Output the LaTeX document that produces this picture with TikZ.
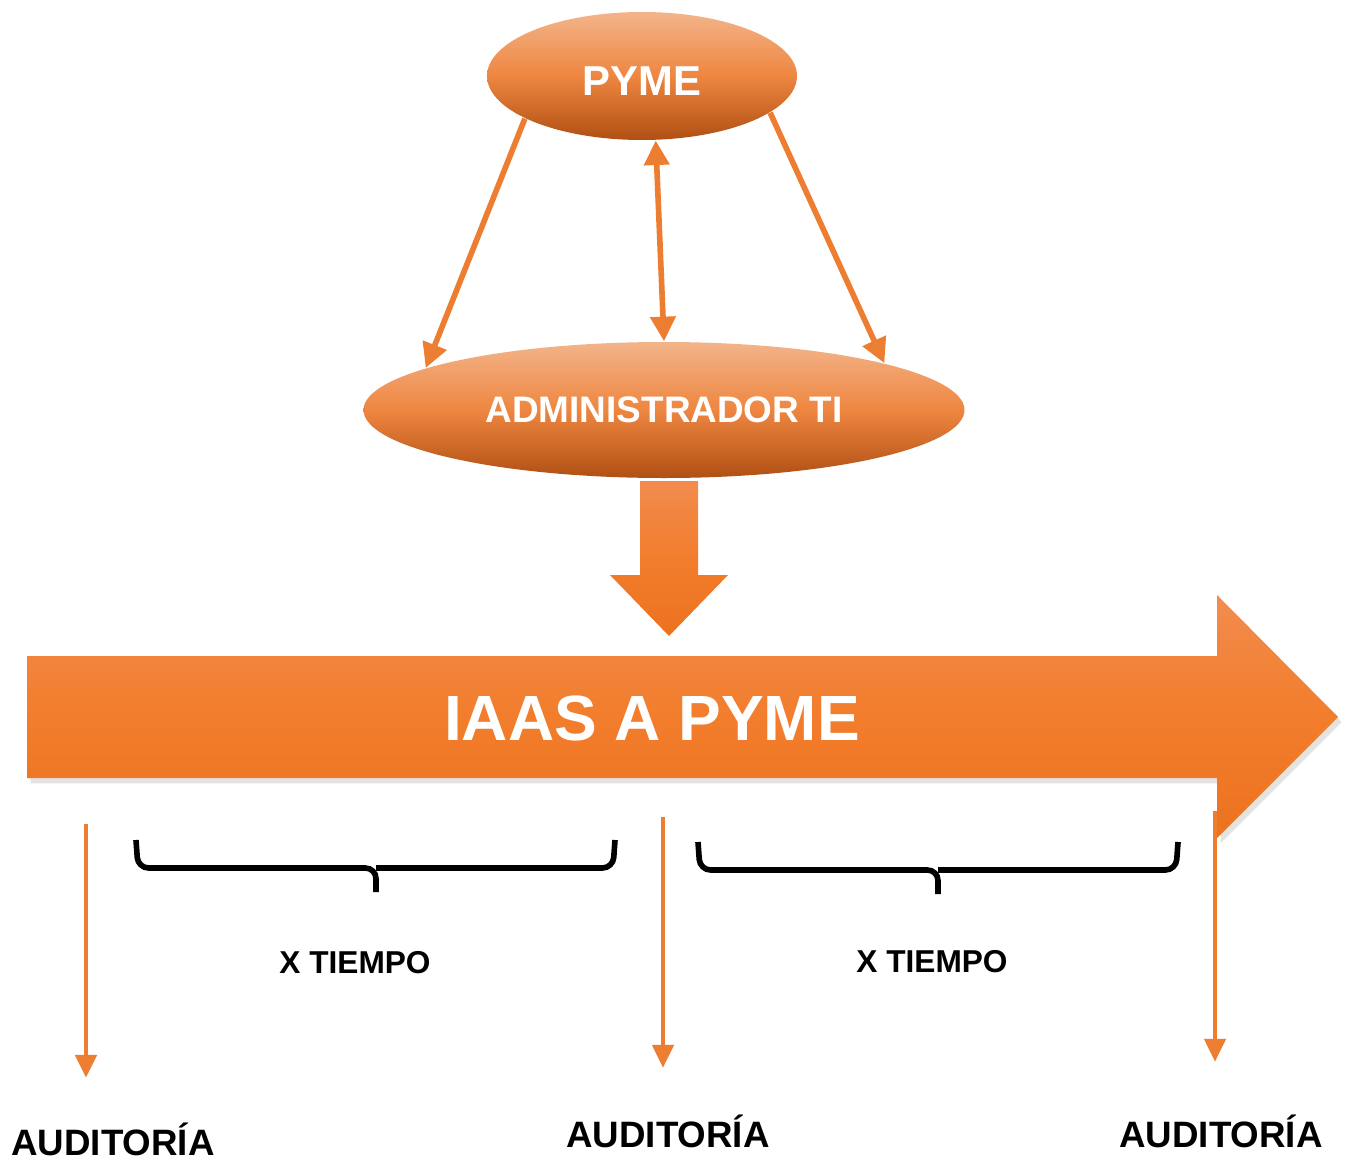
\documentclass[tikz,border=0pt]{standalone}
\usepackage{fontspec}
\setmainfont{Liberation Sans}
\usetikzlibrary{shapes.geometric,arrows.meta,calc,shadows}
\definecolor{naranja}{HTML}{ED7D31}
\definecolor{naranjaclaro}{HTML}{F3B48A}
\definecolor{naranjamedio}{HTML}{EE8640}
\definecolor{naranjaoscuro}{HTML}{B04F14}
\definecolor{flechaarriba}{HTML}{F28C4E}
\definecolor{flechamedio}{HTML}{F27D2C}
\definecolor{flechaabajo}{HTML}{EC721F}
\begin{document}
\begin{tikzpicture}
                [elipse/.style={ellipse, inner sep=0pt, top color=naranjaclaro, bottom color=naranjaoscuro, middle color=naranjamedio, text=white, font=\bfseries},
                 conector/.style={draw=naranja, line width=1.6pt, -{Triangle[length=7pt,width=7pt]}},
                 linea/.style={draw=naranja, line width=1.2pt, -{Triangle[length=6.5pt,width=6pt]}},
                 bloque/.style={top color=flechaarriba, bottom color=flechaabajo, middle color=flechamedio, draw=none},
                 llave/.style={draw=black, line width=1.6pt, rounded corners=3pt},
                 etiqueta/.style={draw=none, fill=none, inner sep=0pt, font=\bfseries}]
                \useasboundingbox (0,0) rectangle (13.46,-11.58);
                % Define nodes
                \node[elipse, minimum width=3.10cm, minimum height=1.28cm, text height=0.40cm, font=\fontsize{11.9}{14}\bfseries] (pyme) at (6.42,-0.76) {PYME};
                \node[elipse, minimum width=6.01cm, minimum height=1.36cm, font=\fontsize{10.5}{12}\bfseries] (admin) at (6.64,-4.10) {ADMINISTRADOR TI};
                % Define arrows
                \shade[bloque] (6.40,-4.81) -- (6.98,-4.81) -- (6.98,-5.75) -- (7.28,-5.75) -- (6.69,-6.36) -- (6.10,-5.75) -- (6.40,-5.75) -- cycle;
                \path[bloque, drop shadow={shadow xshift=1pt, shadow yshift=-1.5pt, opacity=0.22}] (0.27,-6.56) -- (12.17,-6.56) -- (12.17,-5.95) -- (13.38,-7.17) -- (12.17,-8.38) -- (12.17,-7.78) -- (0.27,-7.78) -- cycle;
                \node[etiqueta, text=white, font=\fontsize{18.2}{20}\bfseries] (iaas) at (6.52,-7.18) {IAAS A PYME};
                % Define edges
                \draw[conector] (pyme.200) -- (admin.170);
                \draw[conector, {Triangle[length=7pt,width=7pt]}-{Triangle[length=7pt,width=7pt]}] (pyme.-78) -- (admin.north);
                \draw[conector] (pyme.-16) -- (admin.12);
                % Braces
                \draw[llave] (1.36,-8.40) -- (1.38,-8.68) -- (3.76,-8.68) -- (3.76,-8.92);
                \draw[llave] (3.76,-8.68) -- (6.13,-8.68) -- (6.15,-8.40);
                \draw[llave] (6.98,-8.42) -- (7.00,-8.70) -- (9.38,-8.70) -- (9.38,-8.94);
                \draw[llave] (9.38,-8.70) -- (11.76,-8.70) -- (11.78,-8.42);
                \node[etiqueta, font=\fontsize{9}{11}\bfseries] (t1) at (3.55,-9.63) {X TIEMPO};
                \node[etiqueta, font=\fontsize{9}{11}\bfseries] (t2) at (9.32,-9.62) {X TIEMPO};
                % Auditorias
                \node[etiqueta, anchor=base, font=\fontsize{10.45}{12}\bfseries] (aud1) at (1.13,-11.55) {AUDITORÍA};
                \node[etiqueta, anchor=base, font=\fontsize{10.45}{12}\bfseries] (aud2) at (6.68,-11.47) {AUDITORÍA};
                \node[etiqueta, anchor=base, font=\fontsize{10.45}{12}\bfseries] (aud3) at (12.21,-11.47) {AUDITORÍA};
                \coordinate (a1) at (0.86,-8.24);
                \coordinate (a2) at (6.63,-8.17);
                \coordinate (a3) at (12.15,-8.11);
                \draw[linea] (a1) -- ($(a1 |- aud1.north)+(0,0.44)$);
                \draw[linea] (a2) -- ($(a2 |- aud2.north)+(0,0.46)$);
                \draw[linea] (a3) -- ($(a3 |- aud3.north)+(0,0.52)$);
            \end{tikzpicture}
\end{document}
